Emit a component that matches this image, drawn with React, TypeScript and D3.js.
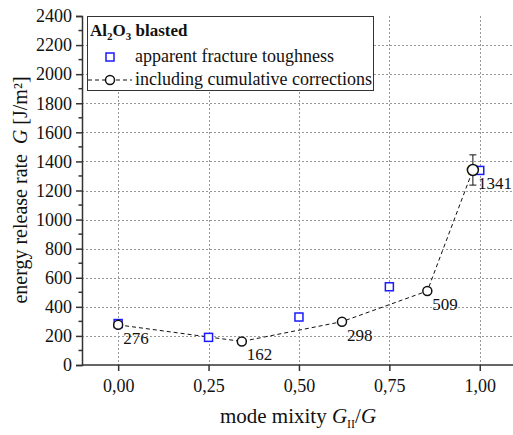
import * as d3 from 'd3'
import { useEffect, useRef } from 'react'

const width = 513
const height = 435
const marginLeft = 82
const marginTop = 16
const plotBottom = 365
const plotRight = 516

const font = '"Liberation Serif", "Times New Roman", serif'

// apparent fracture toughness (blue squares)
const apparentX = [0, 0.25, 0.5, 0.75, 1.0]
const apparentG = [285, 190, 330, 538, 1338]

// including cumulative corrections (black circles)
const correctedX = [0, 0.342, 0.619, 0.855, 0.981]
const correctedG = [276, 162, 298, 509, 1341]
const correctedErr = [0, 0, 0, 0, 104]
const correctedLabels = ['276', '162', '298', '509', '1341']

const xTicks = [0, 0.25, 0.5, 0.75, 1.0]
const yTicks = [0, 200, 400, 600, 800, 1000, 1200, 1400, 1600, 1800, 2000, 2200, 2400]
const yMinorTicks = [100, 300, 500, 700, 900, 1100, 1300, 1500, 1700, 1900, 2100, 2300]

export default function App() {
  const ref = useRef(null)

  useEffect(() => {
    const svg = d3.select(ref.current)
    svg.selectAll('*').remove()

    const x = d3.scaleLinear([-0.1, 1.1], [marginLeft, marginLeft + 1.2 * 361.6])
    const y = d3.scaleLinear([0, 2400], [plotBottom, marginTop])

    // grid lines
    const grid = svg.append('g').attr('stroke', '#999').attr('stroke-dasharray', '2,2').attr('stroke-width', 1)
    yTicks.filter(t => t > 0 && t < 2400).forEach(t => {
      grid.append('line').attr('x1', marginLeft).attr('x2', plotRight)
        .attr('y1', Math.round(y(t)) + 0.5).attr('y2', Math.round(y(t)) + 0.5)
    })
    xTicks.forEach(t => {
      grid.append('line').attr('x1', Math.round(x(t)) + 0.5).attr('x2', Math.round(x(t)) + 0.5)
        .attr('y1', marginTop).attr('y2', plotBottom)
    })

    // y axis
    const yAxis = svg.append('g')
      .attr('transform', `translate(${marginLeft},0)`)
      .call(d3.axisLeft(y).tickValues(yTicks).tickSize(6).tickPadding(4).tickFormat(d3.format('d')))
      .attr('font-family', font)
      .attr('font-size', 18)
    yAxis.select('.domain').attr('stroke', '#333').attr('stroke-width', 1.5)
    yAxis.selectAll('.tick line').attr('stroke', '#333').attr('stroke-width', 1.5)
    yAxis.selectAll('.tick text').attr('fill', '#111')
    yMinorTicks.forEach(t => {
      yAxis.append('line').attr('x1', -3.5).attr('x2', 0).attr('y1', y(t)).attr('y2', y(t))
        .attr('stroke', '#333').attr('stroke-width', 1.5)
    })

    // x axis
    const xAxis = svg.append('g')
      .attr('transform', `translate(0,${plotBottom})`)
      .call(d3.axisBottom(x).tickValues(xTicks).tickSize(6).tickPadding(8)
        .tickFormat(d => d3.format('.2f')(d as number).replace('.', ',')))
      .attr('font-family', font)
      .attr('font-size', 18)
    xAxis.select('.domain').attr('stroke', '#333').attr('stroke-width', 1.5)
      .attr('d', `M${marginLeft},0H${plotRight}`)
    xAxis.selectAll('.tick line').attr('stroke', '#333').attr('stroke-width', 1.5)
    xAxis.selectAll('.tick text').attr('fill', '#111')

    // dashed line through corrected values
    const line = d3.line<number>().x((_, i) => x(correctedX[i])).y(d => y(d))
    svg.append('path')
      .attr('fill', 'none')
      .attr('stroke', '#111')
      .attr('stroke-width', 1)
      .attr('stroke-dasharray', '4,3')
      .attr('d', line(correctedG))

    // apparent squares
    apparentG.forEach((g, i) => {
      svg.append('rect')
        .attr('x', x(apparentX[i]) - 4).attr('y', y(g) - 4)
        .attr('width', 8).attr('height', 8)
        .attr('fill', 'white').attr('stroke', '#1a1aff').attr('stroke-width', 1.5)
    })

    // error bars
    correctedG.forEach((g, i) => {
      const e = correctedErr[i]
      if (!e) return
      const cx = x(correctedX[i])
      const eg = svg.append('g').attr('stroke', '#111').attr('stroke-width', 1)
      eg.append('line').attr('x1', cx).attr('x2', cx).attr('y1', y(g + e)).attr('y2', y(g - e))
      eg.append('line').attr('x1', cx - 3.5).attr('x2', cx + 3.5).attr('y1', y(g + e)).attr('y2', y(g + e))
      eg.append('line').attr('x1', cx - 3.5).attr('x2', cx + 3.5).attr('y1', y(g - e)).attr('y2', y(g - e))
    })

    // corrected circles and labels
    correctedG.forEach((g, i) => {
      const cx = x(correctedX[i])
      svg.append('circle')
        .attr('cx', cx).attr('cy', y(g)).attr('r', i === 4 ? 5.5 : 4.5)
        .attr('fill', 'white').attr('stroke', '#111').attr('stroke-width', 1.5)
      svg.append('text')
        .attr('x', cx + 5).attr('y', y(g) + 19)
        .attr('font-family', font).attr('font-size', 17).attr('fill', '#111')
        .text(correctedLabels[i])
    })

    // legend
    const lg = svg.append('g').attr('font-family', font).attr('fill', '#111')
    lg.append('rect').attr('x', 87.5).attr('y', 16.5).attr('width', 286).attr('height', 74)
      .attr('fill', 'white').attr('stroke', '#333').attr('stroke-width', 1)
    const title = lg.append('text').attr('x', 90).attr('y', 36)
      .attr('font-size', 17).attr('font-weight', 'bold')
    title.append('tspan').text('Al')
    title.append('tspan').attr('font-size', 11).attr('dy', 4).text('2')
    title.append('tspan').attr('dy', -4).text('O')
    title.append('tspan').attr('font-size', 11).attr('dy', 4).text('3')
    title.append('tspan').attr('dy', -4).text(' blasted')

    lg.append('rect').attr('x', 106).attr('y', 53).attr('width', 8).attr('height', 8)
      .attr('fill', 'white').attr('stroke', '#1a1aff').attr('stroke-width', 1.5)
    lg.append('text').attr('x', 135).attr('y', 62).attr('font-size', 18)
      .text('apparent fracture toughness')
    lg.append('line').attr('x1', 88).attr('x2', 132).attr('y1', 80).attr('y2', 80)
      .attr('stroke', '#111').attr('stroke-width', 1).attr('stroke-dasharray', '4,3')
    lg.append('circle').attr('cx', 110).attr('cy', 80).attr('r', 4.5)
      .attr('fill', 'white').attr('stroke', '#111').attr('stroke-width', 1.5)
    lg.append('text').attr('x', 135).attr('y', 85).attr('font-size', 18)
      .text('including cumulative corrections')

    // y axis title
    const yl = svg.append('text')
      .attr('transform', `translate(27,190) rotate(-90)`)
      .attr('text-anchor', 'middle')
      .attr('font-family', font).attr('font-size', 20).attr('fill', '#111')
    yl.append('tspan').text('energy release rate\u00a0\u00a0')
    yl.append('tspan').attr('font-style', 'italic').text('G')
    yl.append('tspan').text(' [J/m²]')

    // x axis title
    const xl = svg.append('text')
      .attr('x', 298).attr('y', 423)
      .attr('text-anchor', 'middle')
      .attr('font-family', font).attr('font-size', 21).attr('fill', '#111')
    xl.append('tspan').text('mode mixity ')
    xl.append('tspan').attr('font-style', 'italic').text('G')
    xl.append('tspan').attr('font-size', 12).attr('dy', 5).text('II')
    xl.append('tspan').attr('dy', -5).text('/')
    xl.append('tspan').attr('font-style', 'italic').text('G')
  }, [])

  return (
    <svg
      ref={ref}
      width={width}
      height={height}
      viewBox={`0 0 ${width} ${height}`}
      style={{ position: 'absolute', left: 0, top: 0, background: 'white' }}
    ></svg>
  )
}
